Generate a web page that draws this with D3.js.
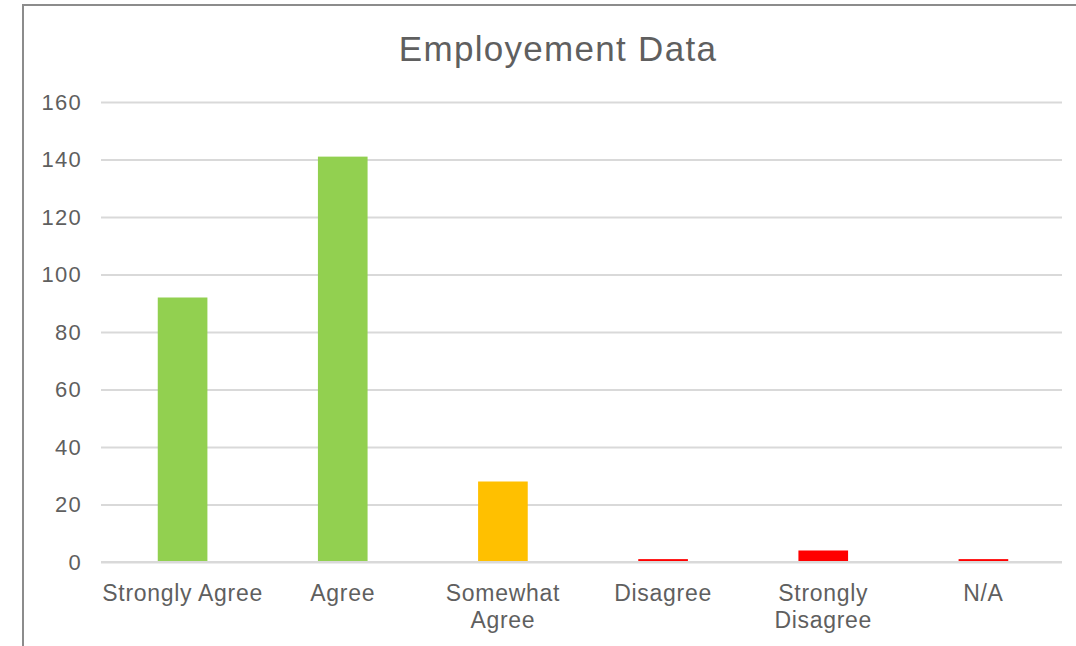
<!DOCTYPE html>
<html><head><meta charset="utf-8">
<script src="https://cdn.jsdelivr.net/npm/d3@7"></script>
<style>body{margin:0;background:#fff;} text{font-family:"Liberation Sans",Arial,Helvetica,sans-serif;}</style>
</head><body>
<svg id="chart" width="1076" height="646"></svg>
<script>
const categories = [["Strongly Agree"],["Agree"],["Somewhat","Agree"],["Disagree"],["Strongly","Disagree"],["N/A"]];
const values = [92, 141, 28, 1, 4, 1];
const colors = ["#92D050","#92D050","#FFC000","#FF0000","#FF0000","#FF0000"];
const yTicks = [0,20,40,60,80,100,120,140,160];
const title = "Employement Data";

(function(){
const svg = d3.select("#chart");
svg.append("rect").attr("x",0).attr("y",0).attr("width",1076).attr("height",646).attr("fill","#fff");
svg.append("line").attr("x1",22).attr("x2",1076).attr("y1",5).attr("y2",5).attr("stroke","#8c8c8c").attr("stroke-width",2);
svg.append("line").attr("x1",23).attr("x2",23).attr("y1",4).attr("y2",646).attr("stroke","#8c8c8c").attr("stroke-width",2);

const pL=101, pR=1062, pT=102, pB=562;
const x = d3.scaleBand().domain(d3.range(values.length)).range([pL+1.5,pR+1.5]).paddingInner(0.69).paddingOuter(0.345);
const y = d3.scaleLinear().domain([0,160]).range([pB,pT]);
const txt = "#5f5f5f";

svg.append("text").attr("x",558).attr("y",61).attr("text-anchor","middle").attr("font-size",35)
  .attr("letter-spacing",1.3).attr("fill",txt).text(title);

const grid = svg.append("g").attr("transform",`translate(${pL},0)`)
  .call(d3.axisLeft(y).tickValues(yTicks).tickSize(-(pR-pL)).tickFormat(""));
grid.select(".domain").remove();
grid.selectAll("line").attr("stroke","#d9d9d9").attr("stroke-width",2);

const yl = svg.append("g").attr("transform",`translate(${pL},0)`)
  .call(d3.axisLeft(y).tickValues(yTicks).tickSize(0).tickPadding(19));
yl.select(".domain").remove();
yl.selectAll("text").attr("font-size",22).attr("letter-spacing",1.3).attr("fill",txt).attr("font-family","Liberation Sans, Arial, sans-serif");

svg.append("g").selectAll("rect").data(values).join("rect")
  .attr("x",(d,i)=>x(i)).attr("width",x.bandwidth())
  .attr("y",d=>y(d)).attr("height",d=>y(0)-y(d)).attr("fill",(d,i)=>colors[i]);

const xa = svg.append("g").attr("transform",`translate(0,${pB})`)
  .call(d3.axisBottom(x).tickSize(0).tickFormat(""));
xa.select(".domain").attr("d",`M${pL},0H${pR}`).attr("stroke","#d9d9d9").attr("stroke-width",2);
xa.selectAll(".tick").each(function(i){
  const t = d3.select(this).append("text").attr("fill",txt).attr("font-size",23).attr("letter-spacing",0.7)
    .attr("text-anchor","middle").attr("font-family","Liberation Sans, Arial, sans-serif");
  categories[i].forEach((s,k)=>t.append("tspan").attr("x",0).attr("y",39+k*27).text(s));
});
})();
</script>
</body></html>
